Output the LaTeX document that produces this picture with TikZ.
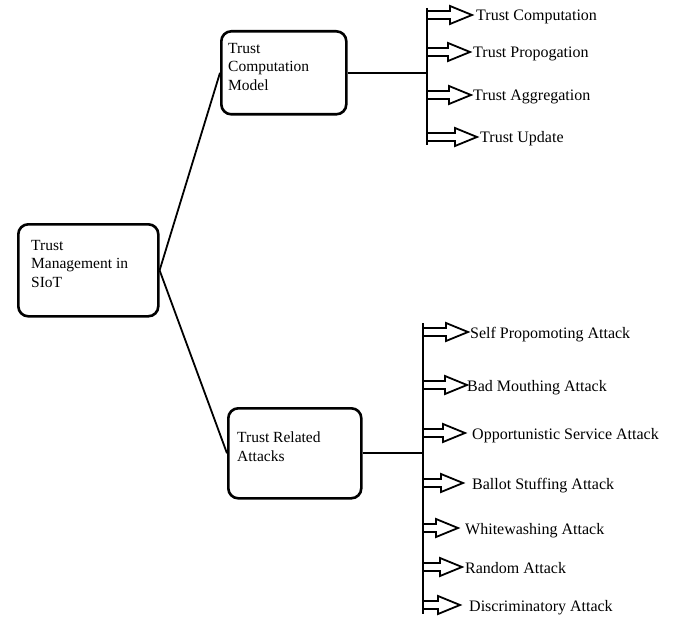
\documentclass[tikz,border=0pt]{standalone}
\usepackage{fontspec}
\setmainfont{Liberation Serif}
\usetikzlibrary{calc}

\tikzset{
 box/.style={draw, line width=2.6bp, rounded corners=10bp, anchor=north west},
 boxtext/.style={anchor=north west, align=left, inner sep=0pt, font=\fontsize{15.5bp}{18.5bp}\selectfont},
 item/.style={anchor=west, inner sep=0pt, text height=14bp, text depth=2bp, font=\fontsize{16bp}{18bp}\selectfont},
 branch/.style={line width=1.8bp},
 blockarr/.style={line width=1.8bp, line join=miter},
}

\begin{document}
\begin{tikzpicture}[x=1bp,y=-1bp]
 \useasboundingbox (0,0) rectangle (676,618); %whole picture
 \node[box, minimum width=140bp, minimum height=92bp] (root) at (17,223) {}; %root box
 \node[boxtext] (rootlbl) at (31,240) {Trust\\Management in\\SIoT};
 \node[box, minimum width=125bp, minimum height=83bp] (top) at (220,30) {}; %upper box
 \node[boxtext] (toplbl) at (228,43) {Trust\\Computation\\Model};
 \node[box, minimum width=133bp, minimum height=90bp] (bot) at (227,407) {}; %lower box
 \node[boxtext] (botlbl) at (237,432) {Trust Related\\Attacks};
 \draw[branch] (root.east)--(top.west); %root to upper
 \draw[branch] (root.east)--(bot.west); %root to lower

 \coordinate (ctop) at (427,8); %upper trunk
 \coordinate (cbot) at (427,145);
 \draw[branch] (ctop)--(cbot);
 \draw[branch] (top.east)--(top.east -| ctop);
 \foreach \py/\gp/\tx/\txt [count=\i] in {15/4/476/Trust Computation, 52/3/473/Trust Propogation, 95/2/473/Trust Aggregation, 137/3/480/Trust Update}{
  \coordinate (ct\i) at (427,\py);
  \node[item] (c\i) at (\tx,\py) {\txt};
  \draw[blockarr] let \p1=(ct\i), \p2=([xshift=-\gp bp]c\i.west) in (\x1,\y1+4bp)--(\x2-22bp,\y1+4bp)--(\x2-22bp,\y1+9bp)--(\x2,\y1)--(\x2-22bp,\y1-9bp)--(\x2-22bp,\y1-4bp)--(\x1,\y1-4bp);
 }

 \coordinate (btop) at (423,323); %lower trunk
 \coordinate (bbot) at (423,614);
 \draw[branch] (btop)--(bbot);
 \draw[branch] (bot.east)--(bot.east -| btop);
 \foreach \py/\gp/\tx/\txt [count=\i] in {332/2/470/Self Propomoting Attack, 385/0/467/Bad Mouthing Attack, 433/7/472/Opportunistic Service Attack, 483/9/472/Ballot Stuffing Attack, 528/7/465/Whitewashing Attack, 567/3/465/Random Attack, 605/9/469/Discriminatory Attack}{
  \coordinate (bt\i) at (423,\py);
  \node[item] (b\i) at (\tx,\py) {\txt};
  \draw[blockarr] let \p1=(bt\i), \p2=([xshift=-\gp bp]b\i.west) in (\x1,\y1+4bp)--(\x2-22bp,\y1+4bp)--(\x2-22bp,\y1+9bp)--(\x2,\y1)--(\x2-22bp,\y1-9bp)--(\x2-22bp,\y1-4bp)--(\x1,\y1-4bp);
 }
\end{tikzpicture}
\end{document}
